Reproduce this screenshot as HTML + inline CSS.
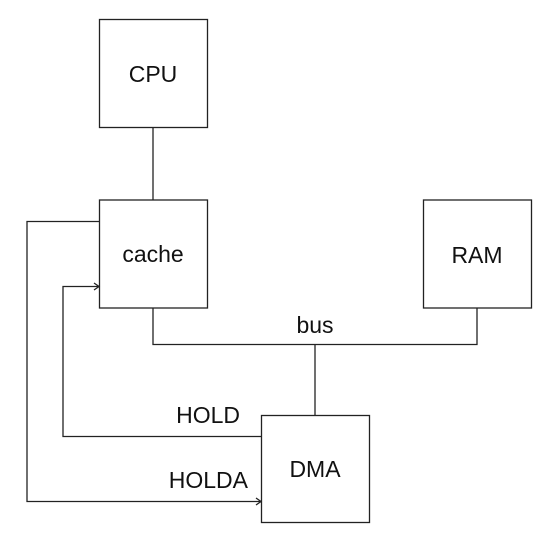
<!DOCTYPE html>
<html><head><meta charset="utf-8"><style>
html,body{margin:0;padding:0;background:#fff;}
svg{display:block;}
text{font-family:"Liberation Sans",sans-serif;font-size:23px;fill:#111;}
</style></head><body>
<svg width="552" height="540" viewBox="0 0 552 540" xmlns="http://www.w3.org/2000/svg">
<g fill="none" stroke="#222" stroke-width="1.3">
<rect x="99.5" y="19.5" width="108" height="108"/>
<rect x="99.5" y="200" width="108" height="108"/>
<rect x="423.5" y="200" width="108" height="108"/>
<rect x="261.5" y="415.5" width="108" height="107"/>
<line x1="153" y1="127.5" x2="153" y2="200"/>
<polyline points="153,308 153,344.5 477,344.5 477,308"/>
<line x1="315" y1="344.5" x2="315" y2="415.5"/>
<polyline points="99.5,221.5 27,221.5 27,501.5 261,501.5"/>
<polyline points="261.5,436.5 63,436.5 63,286.5 99,286.5"/>
<polyline points="94,283 99,286.5 94,290"/>
<polyline points="256,498 261,501.5 256,505"/>
</g>
<text x="153" y="82" text-anchor="middle">CPU</text>
<text x="153" y="262" text-anchor="middle">cache</text>
<text x="477" y="263" text-anchor="middle">RAM</text>
<text x="315" y="477" text-anchor="middle">DMA</text>
<text x="315" y="333" text-anchor="middle">bus</text>
<text x="240" y="423" text-anchor="end">HOLD</text>
<text x="248" y="488" text-anchor="end">HOLDA</text>
</svg>
</body></html>
